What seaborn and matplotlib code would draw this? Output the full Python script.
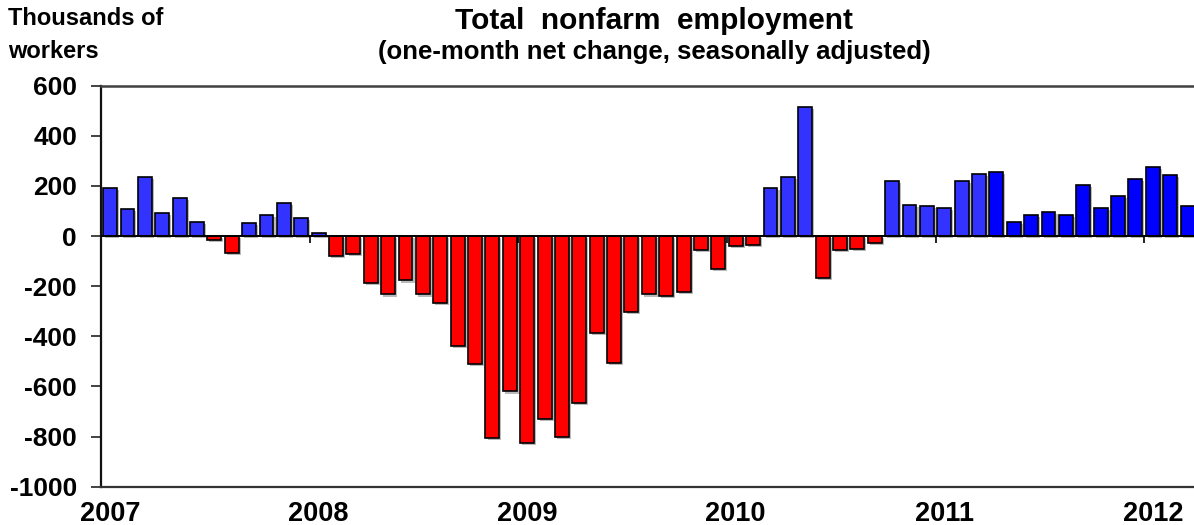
import matplotlib
matplotlib.use("Agg")
import matplotlib.pyplot as plt
from matplotlib import patheffects as pe
import seaborn as sns
import pandas as pd

# ---- data (thousands of workers, one-month net change) ----
months = pd.date_range("2007-01-01", periods=63, freq="MS").strftime("%Y-%m").tolist()
change = [192, 107, 237, 91, 153, 56, -17, -69, 51, 84, 131, 73,
          11, -80, -73, -187, -233, -177, -233, -267, -437, -511, -807, -620,
          -824, -728, -801, -665, -387, -507, -301, -233, -240, -223, -57, -132,
          -40, -35, 192, 237, 515, -167, -57, -52, -29, 221, 125, 119,
          113, 221, 249, 255, 56, 85, 96, 85, 204, 113, 159, 228,
          277, 244, 119]
year_labels = ["2007", "2008", "2009", "2010", "2011", "2012"]
yticks = [600, 400, 200, 0, -200, -400, -600, -800, -1000]

groups = ["neg" if v < 0 else ("pos_recent" if m >= "2011-04" else "pos")
          for m, v in zip(months, change)]
palette = {"neg": "#FF0000", "pos": "#3333FF", "pos_recent": "#0000FF"}

df = pd.DataFrame({"month": months, "change": change, "group": groups})

sns.set_style("white")
plt.rcParams["font.family"] = ["Liberation Sans", "DejaVu Sans"]
plt.rcParams["font.weight"] = "bold"
plt.rcParams["text.color"] = "black"
plt.rcParams["xtick.color"] = "black"
plt.rcParams["ytick.color"] = "black"
plt.rcParams["xtick.labelcolor"] = "black"
plt.rcParams["ytick.labelcolor"] = "black"

W, H = 1194, 525
fig = plt.figure(figsize=(W / 100, H / 100), dpi=100)
left_px, top_px, bottom_px = 100.7, 85.7, 486.7
ax = fig.add_axes([left_px / W, (H - bottom_px) / H, 1 - left_px / W, (bottom_px - top_px) / H])

sns.barplot(data=df, x="month", y="change", hue="group", palette=palette,
            order=months, dodge=False, legend=False, width=0.8, saturation=1,
            edgecolor="black", linewidth=1.2, ax=ax)

for p in ax.patches:
    p.set_path_effects([pe.SimplePatchShadow(offset=(1.5, -1.5), shadow_rgbFace="0.55", alpha=0.6),
                        pe.Normal()])

ax.set_xlim(-0.54, 62.37)
ax.set_ylim(-1000, 600)
ax.set_yticks(yticks)
ax.set_yticklabels([str(t) for t in yticks])

jan_idx = [i for i, m in enumerate(months) if m.endswith("-01")]
ax.set_xticks(jan_idx)
ax.set_xticklabels(year_labels)
ax.set_xlabel("")
ax.set_ylabel("")

ax.tick_params(axis="x", length=0, pad=10, labelsize=19.5, labelcolor="black")
ax.tick_params(axis="y", length=7, width=1.2, direction="out", pad=10, labelsize=19,
               color="#222222", labelcolor="black")
ax.yaxis.set_ticks_position("left")

ax.axhline(0, color="black", lw=1.4, zorder=3)
ax.vlines([i - 0.5 for i in jan_idx if i > 0], -28, 0, color="black", lw=1.2, zorder=3)

ax.spines["right"].set_visible(False)
ax.spines["top"].set_color("#404040")
ax.spines["top"].set_linewidth(1.8)
ax.spines["bottom"].set_color("#333333")
ax.spines["bottom"].set_linewidth(1.6)
ax.spines["left"].set_color("#111111")
ax.spines["left"].set_linewidth(1.6)

fig.text(8 / W, 1 - 25 / H, "Thousands of", fontsize=17, fontweight="bold", va="baseline", color="black")
fig.text(8 / W, 1 - 58 / H, "workers", fontsize=17, fontweight="bold", va="baseline", color="black")
fig.text(654 / W, 1 - 29.3 / H, "Total  nonfarm  employment", fontsize=21.5, fontweight="bold",
         ha="center", va="baseline", color="black")
fig.text(654 / W, 1 - 59 / H, "(one-month net change, seasonally adjusted)", fontsize=18.5,
         fontweight="bold", ha="center", va="baseline", color="black")

fig.savefig("out.png", dpi=100)
